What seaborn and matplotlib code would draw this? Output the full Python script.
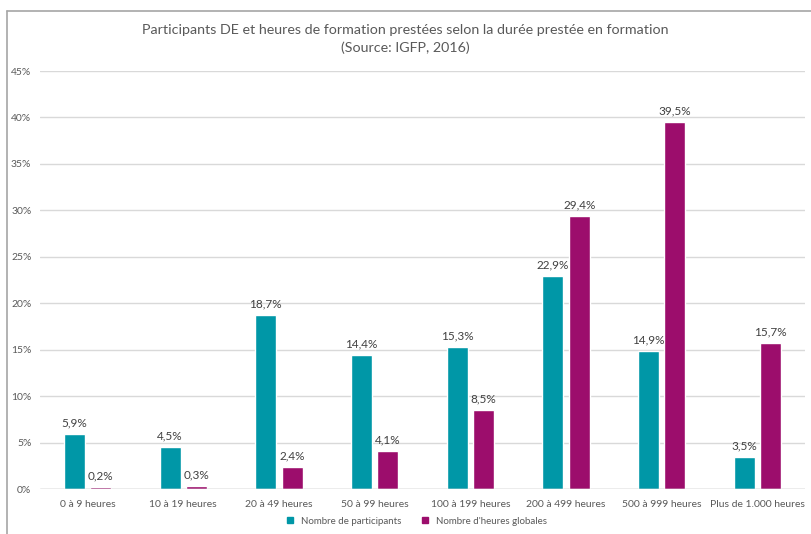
import pandas as pd
import numpy as np
import matplotlib
matplotlib.use('Agg')
import matplotlib.pyplot as plt
from matplotlib.lines import Line2D
from matplotlib.ticker import FuncFormatter
import seaborn as sns

categories = ['0 à 9 heures', '10 à 19 heures', '20 à 49 heures', '50 à 99 heures',
              '100 à 199 heures', '200 à 499 heures', '500 à 999 heures', 'Plus de 1.000 heures']
participants = [5.9, 4.5, 18.7, 14.4, 15.3, 22.9, 14.9, 3.5]
heures = [0.2, 0.3, 2.4, 4.1, 8.5, 29.4, 39.5, 15.7]
series = ['Nombre de participants', "Nombre d'heures globales"]

df = pd.DataFrame({
    'cat': categories * 2,
    'val': participants + heures,
    'serie': [series[0]] * len(categories) + [series[1]] * len(categories),
})

custom_palette = ['#0097A7', '#9C0D6C']

sns.set_style('white')
plt.rcParams['font.family'] = ['Lato', 'DejaVu Sans']

fig = plt.figure(figsize=(8.11, 5.34), dpi=100)
ax = fig.add_axes([0.049, 0.084, 0.944, 0.783])

sns.barplot(data=df, x='cat', y='val', hue='serie', palette=custom_palette,
            width=0.55, gap=0.2, ax=ax, legend=False, saturation=1, zorder=3)

# value labels
for cont in ax.containers:
    ax.bar_label(cont, labels=[f'{v:.1f}%'.replace('.', ',') for v in cont.datavalues],
                 padding=4, fontsize=8.5, color='#404040')

ax.set_ylim(0, 45)
ax.set_xlim(-0.5, len(categories) - 0.5)
ax.set_yticks(np.arange(0, 46, 5))
ax.yaxis.set_major_formatter(FuncFormatter(lambda v, p: f'{v:.0f}%'))
ax.grid(axis='y', color='#D9D9D9', linewidth=1, zorder=0)
ax.axhline(0, color='#BFBFBF', linewidth=1, zorder=4)
for s in ax.spines.values():
    s.set_visible(False)
ax.tick_params(axis='both', length=0, labelsize=7.5, labelcolor='#595959')
ax.tick_params(axis='x', pad=8)
ax.tick_params(axis='y', pad=6)
ax.set_xlabel('')
ax.set_ylabel('')

fig.text(0.5, 0.943, 'Participants DE et heures de formation prestées selon la durée prestée en formation',
         ha='center', va='center', fontsize=10.3, color='#595959')
fig.text(0.5, 0.91, '(Source: IGFP, 2016)', ha='center', va='center', fontsize=10.3, color='#595959')

handles = [Line2D([], [], marker='s', linestyle='', markersize=5, color=c) for c in custom_palette]
fig.legend(handles, series, loc='center', bbox_to_anchor=(0.51, 0.024), ncol=2, frameon=False,
           fontsize=7, labelcolor='#595959', handletextpad=0.05, columnspacing=1.5)

# frame lines of the original screenshot
fig.add_artist(Line2D([0.009, 0.009], [0, 0.979], color='#A6A6A6', linewidth=1.2, transform=fig.transFigure))
fig.add_artist(Line2D([0.009, 1.0], [0.979, 0.979], color='#A6A6A6', linewidth=1.2, transform=fig.transFigure))

plt.savefig('out.png', dpi=100)
